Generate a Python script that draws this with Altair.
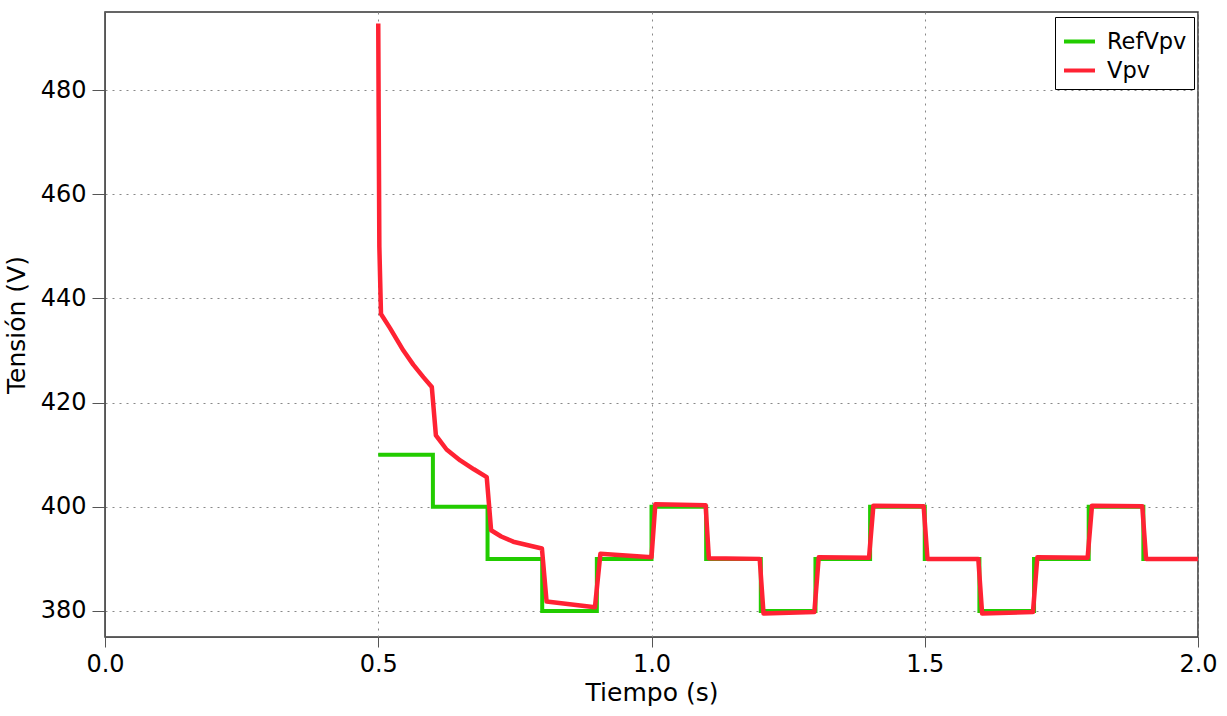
import altair as alt
import pandas as pd

# RefVpv (step-after)
ref_t = [0.5, 0.6, 0.7, 0.8, 0.9, 1.0, 1.1, 1.2, 1.3, 1.4, 1.5, 1.6, 1.7, 1.8, 1.9, 2.0]
ref_v = [410, 400, 390, 380, 390, 400, 390, 380, 390, 400, 390, 380, 390, 400, 390, 390]

# Vpv (read points)
vpv_t = [0.5, 0.5008, 0.502, 0.505, 0.5215, 0.546, 0.564, 0.5825, 0.598,
         0.6055, 0.625, 0.65, 0.675, 0.6985, 0.7065, 0.725, 0.747, 0.7995, 0.808, 0.8965,
         0.9065, 1.0, 1.007, 1.099, 1.105, 1.198, 1.205, 1.298, 1.306, 1.398, 1.406, 1.498,
         1.505, 1.598, 1.605, 1.698, 1.706, 1.798, 1.806, 1.898, 1.905, 2.0]
vpv_v = [492.8, 475.0, 450.0, 437.0, 434.3, 430.0, 427.3, 424.9, 423.0,
         413.7, 411.0, 408.9, 407.2, 405.7, 395.5, 394.3, 393.3, 392.0, 381.8, 380.7,
         391.0, 390.3, 400.5, 400.3, 390.1, 390.0, 379.5, 379.8, 390.3, 390.2, 400.2, 400.1,
         390.0, 390.0, 379.5, 379.8, 390.3, 390.2, 400.2, 400.1, 390.0, 390.0]

x_ticks = [0.0, 0.5, 1.0, 1.5, 2.0]
y_ticks = [380, 400, 420, 440, 460, 480]

series = ["RefVpv", "Vpv"]
colors = ["#22cc00", "#ff2233"]

ref_df = pd.DataFrame({"t": ref_t, "v": ref_v, "s": "RefVpv"})
vpv_df = pd.DataFrame({"t": vpv_t, "v": vpv_v, "s": "Vpv"})

x_enc = alt.X("t:Q", scale=alt.Scale(domain=[0, 2.0], nice=False),
              axis=alt.Axis(values=x_ticks, format=".1f", title="Tiempo (s)",
                            labelFlush=False, tickSize=10, labelPadding=5, titlePadding=4))
y_enc = alt.Y("v:Q", scale=alt.Scale(domain=[375, 495], nice=False, zero=False),
              axis=alt.Axis(values=y_ticks, title="Tensión (V)", labelFlush=False,
                            tickSize=13, labelPadding=6, titlePadding=11))
color_enc = alt.Color("s:N", scale=alt.Scale(domain=series, range=colors),
                      legend=alt.Legend(title=None, orient="none", legendX=950, legendY=5,
                                        symbolType="stroke", symbolSize=961,
                                        symbolStrokeWidth=4, labelFontSize=22.5,
                                        labelOffset=10, padding=7, rowPadding=0,
                                        strokeColor="black", fillColor="white",
                                        cornerRadius=0, labelColor="black"))

ref_line = alt.Chart(ref_df).mark_line(interpolate="step-after", strokeWidth=4).encode(
    x=x_enc, y=y_enc, color=color_enc)
vpv_line = alt.Chart(vpv_df).mark_line(strokeWidth=4.5, strokeJoin="round").encode(
    x=x_enc, y=y_enc, color=color_enc)

chart = alt.layer(ref_line, vpv_line).properties(
    width=1093, height=625,
    autosize=alt.AutoSizeParams(type="none"),
    padding={"left": 105, "top": 12, "right": 29, "bottom": 79},
).configure(font="DejaVu Sans").configure_view(
    stroke="#333333", strokeWidth=1.5
).configure_axis(
    labelFontSize=24, titleFontSize=25, titleFontWeight="normal",
    labelColor="black", titleColor="black",
    domainColor="#555555", tickColor="#555555",
    gridColor="#888888", gridDash=[2, 5], gridWidth=1, gridOpacity=1,
)

chart.save("out.html", embed_options={"renderer": "svg", "actions": False})
